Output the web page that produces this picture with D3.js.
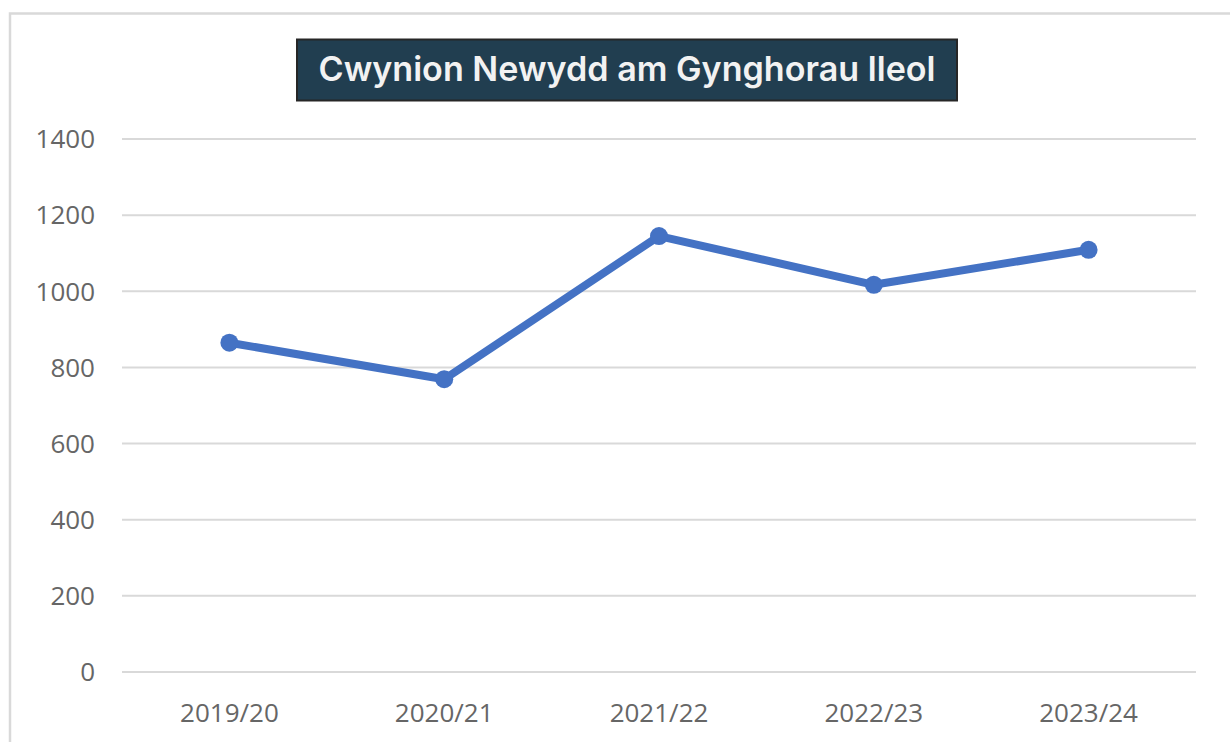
<!DOCTYPE html>
<html>
<head>
<meta charset="utf-8">
<script src="https://cdn.jsdelivr.net/npm/d3@7"></script>
<style>
  html, body { margin: 0; padding: 0; background: #fff; }
  svg { display: block; }
</style>
</head>
<body>
<div id="chart"></div>
<script>
// Data
const years = ["2019/20", "2020/21", "2021/22", "2022/23", "2023/24"];
const complaints = [865, 769, 1145, 1017, 1109];
const yTicks = [0, 200, 400, 600, 800, 1000, 1200, 1400];
const chartTitle = "Cwynion Newydd am Gynghorau lleol";

const width = 1230, height = 742;
const plot = { left: 122, right: 1196, top: 139, bottom: 672 };

const svg = d3.select("#chart")
  .append("svg")
  .attr("width", width)
  .attr("height", height);

// outer chart frame
svg.append("rect")
  .attr("x", 10)
  .attr("y", 13.5)
  .attr("width", width)
  .attr("height", height)
  .attr("fill", "#fff")
  .attr("stroke", "#d9d9d9")
  .attr("stroke-width", 2.5);

const x = d3.scaleBand()
  .domain(years)
  .range([plot.left, plot.right])
  .padding(0);

const y = d3.scaleLinear()
  .domain([0, 1400])
  .range([plot.bottom, plot.top]);

// gridlines
svg.append("g")
  .selectAll("line")
  .data(yTicks)
  .join("line")
  .attr("x1", plot.left)
  .attr("x2", plot.right)
  .attr("y1", d => y(d))
  .attr("y2", d => y(d))
  .attr("stroke", "#d9d9d9")
  .attr("stroke-width", 2);

// y axis labels
const yAxis = d3.axisLeft(y).tickValues(yTicks).tickFormat(d3.format("d")).tickSize(0).tickPadding(0);
const yg = svg.append("g")
  .attr("transform", `translate(95,0)`)
  .call(yAxis);
yg.select(".domain").remove();
yg.selectAll("text")
  .attr("font-family", "'Open Sans', 'Liberation Sans', sans-serif")
  .attr("font-size", 26)
  .attr("fill", "#666666")
  .attr("dy", "0.34em");

// x axis labels
const xAxis = d3.axisBottom(x).tickSize(0).tickPadding(0);
const xg = svg.append("g")
  .attr("transform", `translate(0,${plot.bottom})`)
  .call(xAxis);
xg.select(".domain").remove();
xg.selectAll("text")
  .attr("font-family", "'Open Sans', 'Liberation Sans', sans-serif")
  .attr("font-size", 26)
  .attr("fill", "#666666")
  .attr("dy", null)
  .attr("y", 50);

// line
const line = d3.line()
  .x((d, i) => x(years[i]) + x.bandwidth() / 2)
  .y(d => y(d));

svg.append("path")
  .datum(complaints)
  .attr("d", line)
  .attr("fill", "none")
  .attr("stroke", "#4472c4")
  .attr("stroke-width", 8)
  .attr("stroke-linejoin", "round");

svg.append("g")
  .selectAll("circle")
  .data(complaints)
  .join("circle")
  .attr("cx", (d, i) => x(years[i]) + x.bandwidth() / 2)
  .attr("cy", d => y(d))
  .attr("r", 9)
  .attr("fill", "#4472c4");

// title box
svg.append("rect")
  .attr("x", 297)
  .attr("y", 39.5)
  .attr("width", 660)
  .attr("height", 61)
  .attr("fill", "#213e50")
  .attr("stroke", "#262626")
  .attr("stroke-width", 2);

svg.append("text")
  .attr("x", 627)
  .attr("y", 81)
  .attr("text-anchor", "middle")
  .attr("font-family", "Inter, 'Open Sans', sans-serif")
  .attr("font-weight", 600)
  .attr("font-size", 34)
  .attr("fill", "#f2f2f2")
  .attr("textLength", 617)
  .attr("lengthAdjust", "spacingAndGlyphs")
  .text(chartTitle);
</script>
</body>
</html>
